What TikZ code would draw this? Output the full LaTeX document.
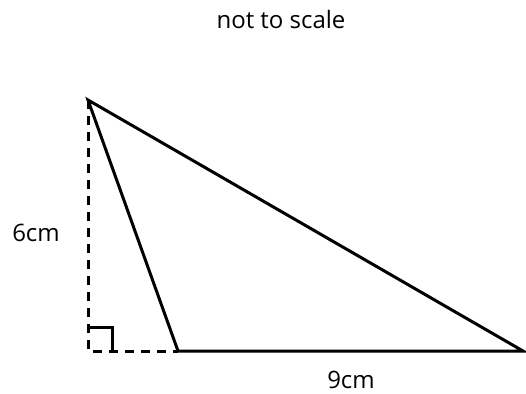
\documentclass[tikz,border=0pt]{standalone}
\usepackage{fontspec}
\setmainfont{Open Sans}
\begin{document}
\begin{tikzpicture}[x=1pt,y=-1pt,
  edge/.style={line width=3pt, line join=miter},
  dash line/.style={line width=3pt, dash pattern=on 9pt off 7pt},
  lbl/.style={font=\fontsize{24}{28}\selectfont, text=black, inner sep=0pt}]
\useasboundingbox (0,0) rectangle (526,393);
\coordinate (A) at (88,100);
\coordinate (B) at (178,351);
\coordinate (C) at (523,351);
\coordinate (F) at (88,351);
\draw[dash line] (A) -- (F) -- (B);
\draw[edge] (88,327) -- (112,327) -- (112,351);
\draw[edge] (A) -- (B) -- (C) -- cycle;
\node[lbl] (t) at (281,20) {not to scale};
\node[lbl] (h) at (36,233) {6cm};
\node[lbl] (b) at (351,380) {9cm};
\end{tikzpicture}
\end{document}
